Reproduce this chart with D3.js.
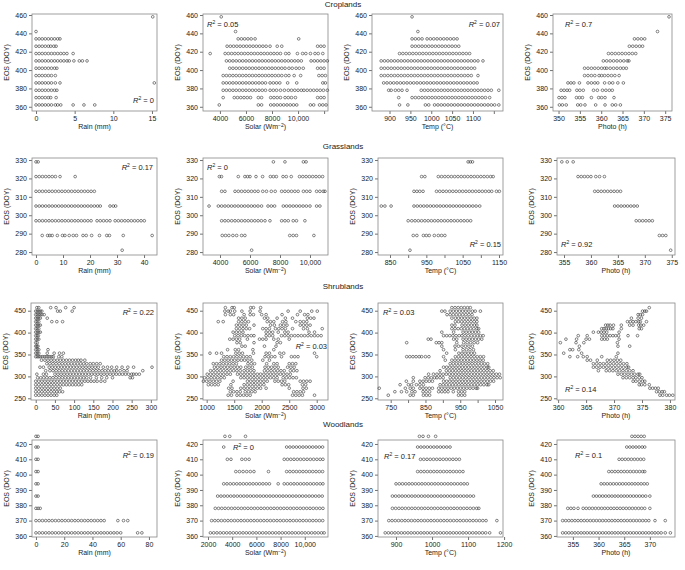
<!DOCTYPE html>
<html><head><meta charset="utf-8">
<script src="https://cdn.jsdelivr.net/npm/d3@7"></script>
<style>body{margin:0;background:#fff} text{font-family:"Liberation Sans",Arial,Helvetica,sans-serif;fill:#222}</style>
</head><body><svg id="c" width="685" height="570"></svg>
<script>
// ---------- DATA: [EOS level, [x values]] ----------
const cropRain = [
 [458,[15.1]],[442,[0]],
 [434,[0,0.4,0.8,1.2,1.6,2,2.4,2.8,3.1]],
 [426,[0,0.4,0.8,1.2,1.6,1.9,2.3,2.6]],
 [418,[0,0.4,0.8,1.2,1.6,2,2.4,2.8,3.2,3.6,4,4.8]],
 [410,[0,0.4,0.8,1.2,1.6,2,2.4,2.8,3.2,3.6,4,4.3,4.9,5.6,6,6.6]],
 [402,[0,0.4,0.8,1.2,1.6,2,2.4,2.7]],
 [394,[0,0.4,0.8,1.2,1.6,2,2.5]],
 [386,[0,0.4,0.8,1.2,1.6,2,2.5,3.1,15.3]],
 [378,[0,0.4,0.8,1.2,1.6,2,2.4,2.7]],
 [370,[0,0.4,0.8,1.2,1.6,1.9,2.6]],
 [362,[0,0.4,0.8,1.2,1.6,2,2.5,2.8,3.2,4.8,6.2,7.6]]
];
const cropSolar = [
 [458,[4100]],[442,[5200]],
 [434,[5400,5650,5900,6150,6400,6700,10050]],
 [426,[4550,4800,5050,5300,5550,5800,6050,6300,6550,6800,7050,7300,7550,7850,8400,8750,11500,11750,12000]],
 [418,[3250,4400,4650,4900,5150,5400,5650,5900,6150,6400,6650,6900,7150,7400,7650,7900,8150,8400,8650,9050,9300,9950,10350,10600,10950,11300,11550,11900]],
 [410,[4500,4750,5000,5250,5500,5750,6000,6250,6500,6750,7000,7250,7500,7750,8000,8250,8500,8750,9000,9250,9500,9750,10000,10250,11000,11250,11500,11750,12000,12250]],
 [402,[4750,5000,5250,5500,5750,6000,6250,6500,6750,7000,7250,7500,7750,8000,8250,8500,8750,9000,9300,9550,9850,10100,10400,11500,11750,12000]],
 [394,[4250,4500,4750,5000,5250,5500,5750,6000,6250,6500,6750,7000,7250,7500,7750,8000,8250,8500,8750,9050,9300,9700,10200,11600,11850,12100]],
 [386,[4250,4500,4750,5000,5250,5500,5750,6000,6250,6500,6750,7000,7250,7500,7850,8100,8350,8600,9200,9900,11900,12100]],
 [378,[4250,4500,4750,5000,5250,5500,5750,6000,6250,6500,6750,7000,7250,7500,7850,8100,8350,8650,8950,9250,9500,9750,10000,10250,10450,10700,10950,11200,11450,11700,11950,12250]],
 [370,[4250,5100,5350,5600,5850,6100,6350,6950,7200,7900,8150,8400,8650,9000,9250,9500,9800,11500,11750,12000]],
 [362,[3950,6950,7200,7900,8150,8400,8650,8900,9150,9400,9650,9900,10950,11200,11650,11900,12150]]
];
const cropTemp = [
 [458,[954]],[442,[968]],
 [434,[954,962,970,978,990,998,1006,1014,1022,1030,1038,1046,1054,1062]],
 [426,[954,962,970,978,986,994,1002,1010,1018,1026,1034,1042,1050,1058,1066]],
 [418,[924,932,940,948,956,964,972,980,988,996,1004,1012,1020,1028,1036,1044,1052,1060,1068,1076,1084,1092]],
 [410,[880,888,896,904,912,920,928,936,944,952,960,968,976,984,992,1000,1008,1016,1024,1032,1040,1048,1056,1064,1072,1080,1088,1096,1104,1112,1124]],
 [402,[880,888,896,904,912,920,928,936,944,952,960,968,976,984,992,1000,1008,1016,1024,1032,1040,1048,1056,1064,1072,1080,1088,1096,1104]],
 [394,[880,888,896,904,912,920,928,936,944,952,960,968,976,984,992,1000,1008,1016,1024,1032,1040,1048,1056,1064,1072,1080,1088,1096,1112]],
 [386,[886,894,902,910,918,926,934,942,950,958,966,974,982,990,998,1006,1014,1022,1030,1038,1046,1054,1062,1070,1078,1086,1094,1102,1110]],
 [378,[898,904,914,922,930,942,976,984,992,1000,1008,1016,1024,1032,1040,1048,1056,1064,1072,1080,1088,1096,1104,1112,1120,1128,1136,1144,1162]],
 [370,[922,954,962,970,978,986,994,1002,1010,1018,1026,1034,1042,1050,1058,1066,1074,1082,1090,1098,1106,1114,1122,1130,1140]],
 [362,[924,944,986,994,1008,1016,1024,1032,1040,1048,1056,1064,1072,1080,1088,1096,1104,1112,1120,1128,1136,1144,1152,1162]]
];
const cropPhoto = [
 [458,[375.9]],[442,[373.2]],
 [434,[367.8,368.6,369.4,370.2]],
 [426,[366.6,367.4,368.2,369,369.7]],
 [418,[361.7,362.5,363.3,364.1,364.9,365.7,366.5,367.3,368.1]],
 [410,[360.5,361.3,362.1,362.9,363.7,364.5,365.3,366.1,366.5]],
 [402,[356.1,356.9,357.7,358.5,359.3,360.1,360.8,361.3,362.1,362.9,363.7,364.5,365.2,365.9]],
 [394,[356.1,356.9,357.7,358.5,359.5,360.1,360.8,361.6,362.4,363.2,364.2]],
 [386,[352.2,352.9,353.6,354.9,356.9,357.7,358.5,359.2,360.8,361.9,362.7,363.9,365.2]],
 [378,[350.6,351.3,352,352.6,354.3,355,355.8,358.2,359.1,360.3,361.1,361.9,362.6]],
 [370,[350.1,350.8,351.5,354.2,354.9,355.6,357.7,359.4,360.1,360.9,363]],
 [362,[350.2,350.9,351.8,354.5,355.2,356.2,358.7,360.9,362.6,363.4,364.5]]
];
const grassRain = [
 [329,[0,0.8]],
 [321,[0,1.2,2.4,3.6,4.8,6,7.2,8.9,14.5]],
 [313,[0,1.2,2.4,3.6,4.8,6,7.2,8.4,9.6,10.8,12,13.2,14.4,15.6,16.8,18,19.2,20.4,21.6]],
 [305,[0,1.2,2.4,3.6,4.8,6,7.2,8.4,9.6,10.8,12,13.2,14.4,15.6,16.8,18,19.2,20.4,21.6,22.8,23.8,27.4,28.6,29.5]],
 [297,[0,1.2,2.4,3.6,4.8,6,7.2,8.4,9.6,10.8,12,13.2,14.4,15.6,16.8,18,19.2,20.4,22.6,23.8,25,26.2,27.4,29.3,30.5,31.7,32.9,34.1,35.3,36.5,37.7,38.9,40.1]],
 [289,[2.3,4.3,5.1,6,7.9,9.8,10.7,12.3,13.8,15,17.4,18.6,20.6,23.5,26.2,27.2,32.3,43]],
 [281,[31.9]]
];
const grassSolar = [
 [329,[7560,8330,9560,9740]],
 [321,[3960,4100,5220,5660,5840,6000,6400,6840,7360,7560,7760,8200,8420,8750,9300,9520,9740,9960,10180,10400,10620,10840]],
 [313,[4110,4330,5000,5220,5440,5660,5880,6100,6320,6540,6850,7100,7420,7680,8110,8330,8550,8770,8990,9210,9560,9780,10000,10440,10660,10880,11000]],
 [305,[3270,3890,4110,4330,4550,4770,4990,5210,5430,5650,5870,6090,6310,6530,6770,7200,7420,7640,8220,8440,8660,8880,9100,9320,9540,9760,10000,10440,10660]],
 [297,[4110,4330,4550,4780,5000,5220,5440,5660,5880,6100,6320,6540,6760,7000,7330,8110,8330,8550,8880,9100,9660]],
 [289,[4150,4370,4590,4860,5110,5440,5660,8650,8880,9100,10260]],
 [281,[6110]]
];
const grassTemp = [
 [329,[1065,1071,1077]],
 [321,[937,946,983,992,1001,1010,1019,1028,1037,1046,1055,1064,1073,1082,1091,1100,1109,1118,1127,1134]],
 [313,[916,924,932,941,978,987,996,1005,1014,1023,1032,1041,1050,1059,1068,1077,1086,1095,1104,1113,1122,1130,1143,1151]],
 [305,[826,836,853,916,925,934,943,952,961,970,979,988,997,1006,1015,1024,1033,1042,1051,1060,1069,1078,1087,1097]],
 [297,[900,910,919,928,937,946,955,964,973,982,991,1000,1009,1018,1027,1036,1045,1054,1063,1072]],
 [289,[914,924,942,950,958,972,983,992,1001]],
 [281,[905]]
];
const grassPhoto = [
 [329,[354.6,355.6,356.7]],
 [321,[357.6,358.2,358.8,359.4,360,360.9,361.6,362.5]],
 [313,[360.7,361.3,361.9,362.5,363.1,363.7,364.3,364.9,365.5]],
 [305,[364.4,365,365.6,366.2,366.8,367.4,368,368.6]],
 [297,[368.4,369,369.6,370.2,370.8,371.4]],
 [289,[372.7,373.3,373.9]],
 [281,[374.8]]
];
const shrubRain = [
 [457,[3,8,39,53,78,100]],
 [449,[0,4,8,12,16,57,64,95]],
 [441,[0,4,8,12,16,22]],
 [433,[0,4,8,12,30]],
 [425,[0,4,8,42,55,70]],
 [417,[0,4,8,12]],[409,[0,4,8]],[401,[0,4,8,12]],[393,[0,4,7]],[385,[0,4,8]],[377,[0,4]],[369,[0,3,6]],
 [361,[0,4,8,32]],
 [353,[0,4,8,30,48,62,72]],
 [345,[0,4,8,12,17,22,27,32,37,42,46,60,68]],
 [337,[15,24,32,40,48,56,64,72,80,88,96,104,111,118,128]],
 [329,[29,37,45,53,61,69,77,85,93,101,109,117,125,133,142,150,159,168]],
 [321,[11,20,35,43,51,59,67,75,83,91,99,107,115,123,131,139,147,155,163,176,187,198,211,225,240,255,303]],
 [313,[26,37,45,53,61,69,77,85,93,101,109,117,125,133,141,149,157,165,173,181,189,197,205,211,220,230,238,279]],
 [305,[3,20,28,50,58,66,74,82,90,98,106,114,122,130,138,146,154,162,170,178,186,194,202,210,218,226,234,242,250,255,262,270]],
 [297,[5,13,21,29,37,45,53,61,69,77,85,93,101,109,117,125,133,143,158,172,185,200,246,252]],
 [289,[0,8,16,24,32,40,48,56,64,72,80,88,96,104,112,120,128,136,144,152,160,170,180]],
 [281,[0,8,16,24,32,40,48,56,64,72,80,88,96,104,112,120]],
 [273,[0,8,16,24,32,40,48,56,64]],
 [265,[0,8,16,24,32,40,48,55,62,70]],
 [257,[0,8,16,24,32,40,48,55]]
];
const shrubSolar = [
 [457,[1340,1460,1500,1800,1850,1980]],
 [449,[1330,1390,1430,1510,1640,1790,1970,2480,2700,2910,3010]],
 [441,[1340,1430,1490,1680,1790,1850,2000,2080,2370,2650,2780,2840]],
 [433,[1580,1640,1700,2050,2110,2280,2430,2560,2830,2890,2950]],
 [425,[1210,1300,1580,1640,1700,1760,2100,2160,2220,2380,2440,2620,2700,2760,2820]],
 [417,[1540,1600,1660,1720,1860,2160,2230,2340,2400,2460,2700,2760,2820,2880]],
 [409,[1540,1600,1660,1720,1780,2020,2080,2140,2250,2310,2370,2430,2560,2760,2830,3100]],
 [401,[1480,1540,1600,1660,2080,2140,2200,2300,2420,2480,2860,2960]],
 [393,[1510,1570,1630,1690,1750,1810,1860,2080,2140,2200,2360,2420,2480,2540,2600,2660,2720,2780,2840,2900,2960,3020,3080]],
 [385,[1420,1480,1540,1600,1740,1960,2020,2080,2220,2300,2500]],
 [377,[1550,1610,1860,2280,2340]],
 [369,[1640,1700,2050,2260]],
 [361,[1380,1520,1580,1840,2220]],
 [353,[1060,1180,1270,1530,1590,1650,1850,2080,2140,2330,2400,2960]],
 [345,[1310,1370,1430,1490,1550,1610,1670,1730,1790,2060,2120,2180,2240,2360,2540,2600,2660,3000]],
 [337,[1270,1330,1390,1450,1510,1570,1630,1690,1750,1820,2020,2140]],
 [329,[1120,1180,1240,1300,1360,1420,1480,1540,1750,1810,1870,2090,2220,2280,2500,2560,2620]],
 [321,[1140,1200,1260,1320,1380,1440,1500,1560,1620,1710,1770,1830,2060,2120,2180,2240,2300,2470,2530,2590]],
 [313,[1070,1130,1190,1250,1310,1370,1430,1490,1550,1610,1680,1740,1800,1860,2050,2110,2170,2230,2290,2350,2410,2520,2580,2640]],
 [305,[1010,1070,1130,1190,1250,1310,1370,1430,1560,1620,1680,1740,1800,1860,1920,1980,2040,2100,2160,2220,2280,2340,2400,2460,2520]],
 [297,[960,1020,1080,1140,1200,1260,1320,1620,1680,1740,1800,1860,1920,1980,2040,2100,2160,2220,2280,2390,2450,2510,2570,2630]],
 [289,[940,1000,1060,1120,1180,1240,1480,1740,1800,1860,1920,1980,2040,2100,2240,2300,2360,2420,2700,2760,2820,2880]],
 [281,[1030,1090,1150,1210,1440,1680,1740,1800,1860,1920,1980,2040,2370,2430,2490,2740,2800]],
 [273,[1400,1460,1620,1680,1740,1800,1860,1920,1980,2080,2500,2750,2810]],
 [265,[1430,1490,1550,1610,1700,1760,1820,1880,2580,2640,2700,2760]],
 [257,[1390,1450,1550,1610,1670,1730,1790,2560,2620,2680,2740,2960]]
];
const shrubTemp = [
 [457,[926,935,944,953,962,971,979]],
 [449,[897,906,921,930,939,948,957,966,975,985,993,1008]],
 [441,[912,921,930,939,948,957,966,975,984]],
 [433,[926,936,945,954,963,972,981,990,998]],
 [425,[936,945,954,963,972,981,990,998]],
 [417,[926,935,955,964,973,982,991,998]],
 [409,[926,935,944,953,962,971,980,989,998,1003]],
 [401,[897,931,958,967,976,985,994,1003]],
 [393,[902,911,920,929,938,947,955,964,973,982,991,1000,1008,1016]],
 [385,[858,866,931,940,958,967,976,985,994,1003,1012]],
 [377,[796,881,889,897,940,960,970,980,990,1000]],
 [369,[897,935,945,955,965,975,985]],
 [361,[902,936,958,968,978,988]],
 [353,[911,946,955,964,973,982,991]],
 [345,[796,805,814,823,832,839,850,860,902,936,945,954,963,972,981,990,999,1008,1017]],
 [337,[907,926,935,944,953,962,971,980,989,998,1007,1016]],
 [329,[921,930,939,948,957,966,975,984,993,1002,1011,1020,1029]],
 [321,[902,911,920,929,938,947,956,965,974,983,992,1001,1010,1019,1028,1032]],
 [313,[892,910,919,928,937,946,955,964,973,982,991,1000,1009,1018,1027,1036,1045]],
 [305,[859,873,883,892,901,910,919,928,937,946,955,964,973,982,991,1000,1009,1018,1027,1036,1045,1054,1063]],
 [297,[815,849,858,867,876,883,892,901,921,930,939,948,957,966,975,984,993,1002,1011,1020,1029,1038,1047,1056,1065]],
 [289,[795,815,834,843,852,861,870,902,911,920,929,938,947,956,965,974,983,992,1001,1010,1019,1028,1037,1046]],
 [281,[777,801,810,824,834,844,892,901,910,919,928,937,946,955,964,973,982,991,1000,1009,1018,1027,1032]],
 [273,[717,792,806,815,834,843,852,861,870,888,897,906,915,924,933,942,951,960,969,978,987,996,1000]],
 [265,[762,781,796,811,820,843,852,862,888,897,906,915,930,945,954,963]],
 [257,[743,806,815,844,853,862,945,954,963]]
];
const shrubPhoto = [
 [457,[376.3]],
 [449,[375.1,375.5,375.8]],
 [441,[374.3,374.7,375.1]],
 [433,[373.1,374.3,374.9]],
 [425,[372.4,372.9,373.4,373.9,374.4,374.7,375.8]],
 [417,[368.5,368.9,369.3,369.9,371.3,372.8,373.4,374.4,374.8,375.3]],
 [409,[367.8,368.2,368.6,369,369.4,369.8,371.3,374.5,374.9]],
 [401,[366.3,367.2,367.7,368.2,368.7,370.9]],
 [393,[363.6,365.2,367.8,368.3,368.8,369.3,369.8,370.3,370.8,372.5,374.2]],
 [385,[361.4,363.3,365,365.6,367.8,368.3,368.8,370.9]],
 [377,[360.4,363.2,364.6,370.6]],
 [369,[363.8,370.7,372.8]],
 [361,[362.1,362.6,363.7]],
 [353,[361,364.2,370.7]],
 [345,[362.1,363.5,364.5,365.2,367.8,370.4]],
 [337,[365.2,365.8,367,368.8,369.4,370,370.6,371.2]],
 [329,[366.3,366.9,367.5,368.1,368.7,369.3,369.9,370.5,371.1,371.7,372.3]],
 [321,[366.3,366.9,367.5,368.1,368.7,369.3,369.9,370.5,371.1,371.7,372.3,372.6]],
 [313,[367.2,368.6,369.2,369.8,370.4,371,371.6,372.2,372.8,373.4]],
 [305,[370.7,371.3,371.9,372.5,373.1,373.7,374.3,374.6]],
 [297,[371.6,372.2,372.8,373.4,373.9,374.5,375]],
 [289,[373.4,373.9,374.5,375.1,375.5]],
 [281,[374.5,374.9,375.5,376.3]],
 [273,[376.4,376.9,377.4,377.9]],
 [265,[377.6,378.1,378.6,379]],
 [257,[378.2,378.7,379.4,379.9,380.5]]
];
const woodRain = [
 [425,[0,1.5]],[418,[0,1.5]],[410,[0,1.5]],[402,[0,1.5]],[394,[0,1.5]],[386,[0,1.5]],
 [378,[0,1.5,3]],
 [370,[0,2.3,4.6,6.9,9.2,11.5,13.8,16.1,18.4,20.7,23,25.3,27.6,29.9,32.2,34.5,36.8,39.1,41.4,43.7,46,48.3,58,62,65]],
 [362,[0,2.3,4.6,6.9,9.2,11.5,13.8,16.1,18.4,20.7,23,25.3,27.6,29.9,32.2,34.5,36.8,39.1,41.4,43.7,46,48.3,50.6,52.9,55.2,57.5,60,72,75]]
];
const woodSolar = [
 [425,[3400,3800,5100]],
 [418,[3300,8500,8770,9040,9310,9580,9850,10120,10390,10660,10930,11200,11470]],
 [410,[3600,3900,4800,5100,5400,8300,8570,8840,9110,9380,9650,9920,10190,10460,10730,11000,11270,11500]],
 [402,[4300,4600,4900,5200,5500,5800,7000,8500,8770,9040,9310,9580,9850,10120,10390,10660,10930,11200,11470]],
 [394,[3300,3570,3840,4110,4380,4650,4920,5190,5460,5730,6000,6270,6540,6810,7080,7800,8300,8570,8840,9110,9380,9650,9920,10190,10460,10730,11000,11270,11500]],
 [386,[2800,3070,3340,3610,3880,4150,4420,4690,4960,5230,5500,5770,6040,6310,6580,6850,7120,7390,7660,7930,8200,8470,8740,9010,9280,9550,9820,10090,10360,10630,10900,11170,11440]],
 [378,[2600,2870,3140,3410,3680,3950,4220,4490,4760,5030,5300,5570,5840,6110,6380,6650,6920,7190,7460,7730,8000,8270,8540,8810,9080,9350,9620,9890,10160,10430,10700,10970,11240,11500]],
 [370,[2300,2570,2840,3110,3380,3650,3920,4190,4460,4730,5000,5270,5540,5810,6080,6350,6620,6890,7160,7430,7700,7970,8240,8510,8780,9050,9320,9590,9860,10130,10400,10670,10940,11210,11480]],
 [362,[2200,2470,2740,3010,3280,3550,3820,4090,4360,4630,4900,5170,5440,5710,5980,6250,6520,6790,7060,7330,7600,7870,8140,8410,8680,8950,9220,9490,9760,10030,10300,10570,10840,11110,11380,11600]]
];
const woodTemp = [
 [425,[965,975,990,1010]],
 [418,[960,969,978,987,996,1005,1014,1023,1032,1041,1050]],
 [410,[968,977,986,995,1004,1013,1022,1031,1040,1049,1058,1067,1076]],
 [402,[960,969,978,987,996,1005,1014,1023,1032,1041,1050,1059,1068,1077,1086]],
 [394,[900,909,918,927,936,945,954,963,972,981,990,999,1008,1017,1026,1035,1044,1053,1062,1071,1080,1089,1098]],
 [386,[890,899,908,917,926,935,944,953,962,971,980,989,998,1007,1016,1025,1034,1043,1052,1061,1070,1079,1088,1097,1106,1115]],
 [378,[890,899,908,917,926,935,944,953,962,971,980,989,998,1007,1016,1025,1034,1043,1052,1061,1070,1079,1088,1097,1106,1115,1124,1130]],
 [370,[880,889,898,907,916,925,934,943,952,961,970,979,988,997,1006,1015,1024,1033,1042,1051,1060,1069,1078,1087,1096,1105,1114,1123,1132,1141,1150,1180]],
 [362,[870,879,888,897,906,915,924,933,942,951,960,969,978,987,996,1005,1014,1023,1032,1041,1050,1059,1068,1077,1086,1095,1104,1113,1122,1131,1140,1149,1160,1190]]
];
const woodPhoto = [
 [425,[366.5,367.1,367.7,368.3,368.9]],
 [418,[365.5,366.1,366.7,367.3,367.9,368.5,369]],
 [410,[364,364.6,365.2,365.8,366.4,367,367.6,368.2,368.8]],
 [402,[362,362.6,363.2,363.8,364.4,365,365.6,366.2,366.8,367.4,368,368.6,369]],
 [394,[360.5,361.1,361.7,362.3,362.9,363.5,364.1,364.7,365.3,365.9,366.5,367.1,367.7,368.3,368.9,369.5]],
 [386,[359,359.6,360.2,360.8,361.4,362,362.6,363.2,363.8,364.4,365,365.6,366.2,366.8,367.4,368,368.6,369.2,370]],
 [378,[354,354.6,355.2,356,357,357.6,358.2,358.8,359.4,360,360.6,361.2,361.8,362.4,363,363.6,364.2,364.8,365.4,366,366.6,367.2,367.8,368.4,369,370]],
 [370,[353,353.6,354.2,354.8,355.4,356,356.6,357.2,357.8,358.4,359,359.6,360.2,360.8,361.4,362,362.6,363.2,363.8,364.4,365,365.6,366.2,366.8,367.4,368,368.6,369.2,369.8,371,373]],
 [362,[353,353.6,354.2,354.8,355.4,356,356.6,357.2,357.8,358.4,359,359.6,360.2,360.8,361.4,362,362.6,363.2,363.8,364.4,365,365.6,366.2,366.8,367.4,368,368.6,369.2,369.8,370.4,371,371.6,372.2,373,374]]
];
const rowTitles = ["Croplands","Grasslands","Shrublands","Woodlands"];
const r2Values = ["0","0.05","0.07","0.7","0.17","0","0.15","0.92","0.22","0.03","0.03","0.14","0.19","0","0.17","0.1"];
const yTicksRows = [[360,380,400,420,440,460],[280,290,300,310,320,330],[250,300,350,400,450],[360,370,380,390,400,410,420]];

// ---------- LAYOUT ----------
const svg = d3.select("#c");
const rowBox = [[14,111],[158,255],[303,400],[440,537]];
const rowY = [[355.4,461.1],[278.4,331.1],[246.1,467.6],[359.3,422.6]];
const titleY = [7,149,289,427];
const P = [
 {d:cropRain, c:[32,157], xd:[-0.52,15.65], xt:[0,5,10,15], xl:[0,5,10,15], t:"rain", r:[154,103,"end"]},
 {d:cropSolar, c:[203,328], xd:[2700,12300], xt:[4000,6000,8000,10000,12000], xl:[4000,6000,8000,10000], t:"solar", r:[207,27,"start"]},
 {d:cropTemp, c:[372,503], xd:[858,1172], xt:[900,950,1000,1050,1100,1150], xl:[900,950,1000,1050,1100], t:"temp", r:[500,27,"end"]},
 {d:cropPhoto, c:[553,672], xd:[348.7,376.6], xt:[350,355,360,365,370,375], xl:[350,355,360,365,370,375], t:"photo", r:[565,27,"start"]},
 {d:grassRain, c:[32,157], xd:[-1.48,44.8], xt:[0,10,20,30,40], xl:[0,10,20,30,40], t:"rain", r:[153,170,"end"]},
 {d:grassSolar, c:[203,328], xd:[2867,11200], xt:[4000,6000,8000,10000], xl:[4000,6000,8000,10000], t:"solar", r:[207,170,"start"]},
 {d:grassTemp, c:[378,503], xd:[817,1161], xt:[850,900,950,1000,1050,1100,1150], xl:[850,950,1050,1150], t:"temp", r:[501,247,"end"]},
 {d:grassPhoto, c:[557,675], xd:[353.7,375.6], xt:[355,360,365,370,375], xl:[355,360,365,370,375], t:"photo", r:[561,247,"start"]},
 {d:shrubRain, c:[31,157], xd:[-12.3,316], xt:[0,50,100,150,200,250,300], xl:[0,50,100,150,200,250,300], t:"rain", r:[154,315,"end"]},
 {d:shrubSolar, c:[203,328], xd:[933,3205], xt:[1000,1500,2000,2500,3000], xl:[1000,1500,2000,2500,3000], t:"solar", r:[327,349,"end"]},
 {d:shrubTemp, c:[378,503], xd:[713.5,1073], xt:[750,800,850,900,950,1000,1050], xl:[750,850,950,1050], t:"temp", r:[383,315,"start"]},
 {d:shrubPhoto, c:[557,675], xd:[359.8,380.9], xt:[360,365,370,375,380], xl:[360,365,370,375,380], t:"photo", r:[565,392,"start"]},
 {d:woodRain, c:[32,157], xd:[-2.8,85.7], xt:[0,20,40,60,80], xl:[0,20,40,60,80], t:"rain", r:[154,458,"end"]},
 {d:woodSolar, c:[203,328], xd:[1588,11918], xt:[2000,4000,6000,8000,10000], xl:[2000,4000,6000,8000,10000], t:"solar", r:[233,450,"start"]},
 {d:woodTemp, c:[378,503], xd:[850,1197], xt:[900,1000,1100,1200], xl:[900,1000,1100,1200], t:"temp", r:[384,459,"start"]},
 {d:woodPhoto, c:[557,675], xd:[351.9,374.9], xt:[355,360,365,370], xl:[355,360,365,370], t:"photo", r:[575,458,"start"]}
];
const fmt = v => v >= 10000 ? d3.format(",")(v) : String(v);
const flat = arr => arr.flatMap(([y, xs]) => xs.map(x => [x, y]));

rowTitles.forEach((t,i)=>{
  svg.append("text").attr("x",343).attr("y",titleY[i]).attr("text-anchor","middle").attr("font-size",8).text(t);
});

P.forEach((p,i)=>{
  const row = Math.floor(i/4);
  const [y0,y1] = rowBox[row];
  const [x0,x1] = p.c;
  const x = d3.scaleLinear().domain(p.xd).range([x0,x1]);
  const y = d3.scaleLinear().domain(rowY[row]).range([y1,y0]);
  const g = svg.append("g");
  const xa = g.append("g").attr("transform",`translate(0,${y1})`)
    .call(d3.axisBottom(x).tickValues(p.xt).tickSize(3).tickPadding(2).tickFormat(d=>p.xl.includes(d)?fmt(d):""));
  const ya = g.append("g").attr("transform",`translate(${x0},0)`)
    .call(d3.axisLeft(y).tickValues(yTicksRows[row]).tickSize(3).tickPadding(2));
  [xa,ya].forEach(a=>{
    a.select(".domain").remove();
    a.selectAll("line").attr("stroke","#333").attr("stroke-width",0.7);
    a.selectAll("text").attr("font-size",7).attr("font-family",null).attr("fill","#222");
  });
  g.append("rect").attr("x",x0).attr("y",y0).attr("width",x1-x0).attr("height",y1-y0)
    .attr("fill","none").attr("stroke","#888").attr("stroke-width",0.8);
  const xt = g.append("text").attr("x",(x0+x1)/2).attr("y",y1+18).attr("text-anchor","middle").attr("font-size",7);
  if(p.t==="rain") xt.text("Rain (mm)");
  else if(p.t==="temp") xt.text("Temp (\u00B0C)");
  else if(p.t==="photo") xt.text("Photo  (h)");
  else { xt.append("tspan").text("Solar  (Wm"); xt.append("tspan").attr("dy",-2.5).attr("font-size",5).text("\u22122"); xt.append("tspan").attr("dy",2.5).text(")"); }
  g.append("text").attr("transform",`translate(${x0-26},${(y0+y1)/2}) rotate(-90)`)
    .attr("text-anchor","middle").attr("dominant-baseline","central").attr("font-size",7).text("EOS (DOY)");
  g.append("g").selectAll("circle").data(flat(p.d)).join("circle")
    .attr("cx",d=>x(d[0])).attr("cy",d=>y(d[1])).attr("r",1.35)
    .attr("fill","none").attr("stroke","#222").attr("stroke-width",0.55);
  const r = g.append("text").attr("x",p.r[0]).attr("y",p.r[1]).attr("text-anchor",p.r[2]).attr("font-size",7.5);
  r.append("tspan").attr("font-style","italic").text("R");
  r.append("tspan").attr("dy",-3).attr("font-size",5).text("2");
  r.append("tspan").attr("dy",3).text(" = " + r2Values[i]);
});
</script>
</body></html>
